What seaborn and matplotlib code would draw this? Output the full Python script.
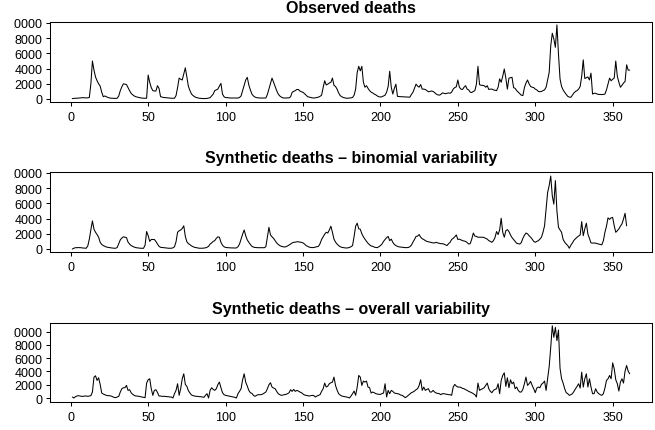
import numpy as np
import matplotlib
matplotlib.use("Agg")
import matplotlib.pyplot as plt
import seaborn as sns
from matplotlib.transforms import Bbox

# weekly deaths, week 1 onwards
observed = [
    50, 80, 100, 100, 120, 150, 150, 180, 150, 150,
    150, 200, 2000, 5000, 3800, 2900, 2400, 2000, 1700, 900,
    300, 400, 300, 200, 150, 100, 100, 80, 80, 100,
    400, 1100, 1600, 2000, 1950, 1900, 1500, 1100, 750, 550,
    400, 300, 250, 200, 150, 120, 100, 100, 100, 3150,
    2200, 1500, 1100, 1050, 1050, 1750, 1400, 300, 250, 200,
    180, 150, 150, 120, 100, 100, 100, 450, 1500, 2750,
    2600, 2500, 3300, 4100, 2850, 1650, 1100, 650, 450, 300,
    200, 150, 100, 80, 60, 50, 60, 80, 120, 170,
    400, 650, 1100, 1200, 1300, 1700, 2050, 650, 300, 180,
    180, 150, 130, 130, 130, 130, 130, 130, 200, 400,
    1100, 1750, 2500, 2850, 1850, 1200, 650, 400, 250, 180,
    150, 130, 130, 120, 120, 130, 600, 1300, 2000, 2750,
    2200, 1650, 1100, 650, 400, 250, 150, 130, 130, 150,
    150, 300, 880, 1000, 1100, 1250, 1250, 1050, 950, 880,
    700, 500, 300, 250, 200, 150, 130, 150, 200, 250,
    350, 500, 1500, 2400, 1850, 1950, 2100, 2200, 2750, 1800,
    1650, 1300, 800, 450, 300, 200, 150, 100, 100, 120,
    150, 200, 500, 1300, 3500, 4300, 3700, 4300, 2200, 1550,
    1750, 1400, 1100, 900, 800, 650, 550, 400, 300, 260,
    300, 400, 500, 900, 1650, 3650, 1550, 650, 1400, 1950,
    350, 320, 300, 300, 280, 270, 260, 250, 240, 600,
    880, 1400, 1950, 1700, 1550, 1900, 1300, 1300, 1250, 1100,
    950, 1000, 1050, 1000, 850, 650, 550, 500, 600, 800,
    750, 700, 750, 800, 750, 900, 1300, 1500, 1600, 2500,
    1550, 1300, 1250, 1550, 1750, 1300, 1200, 900, 850, 1000,
    1100, 1950, 4300, 1900, 1800, 1800, 1750, 1550, 1750, 1250,
    1300, 1300, 1200, 1150, 1100, 1550, 2650, 2200, 3000, 3950,
    2750, 1300, 2750, 2800, 2850, 1500, 1400, 1100, 900, 700,
    500, 450, 1500, 2100, 2500, 2000, 1650, 1550, 1500, 1300,
    1200, 1000, 950, 1000, 1100, 1200, 1550, 2500, 3500, 7000,
    8650, 7900, 6800, 9750, 5900, 2650, 1650, 1200, 880, 600,
    350, 250, 220, 500, 800, 1000, 1100, 1300, 1650, 3000,
    5150, 2700, 2800, 2900, 2500, 3400, 650, 750, 750, 650,
    600, 600, 580, 600, 650, 1200, 2000, 2750, 2400, 2600,
    2750, 5000, 3000, 2200, 1550, 1800, 2100, 2300, 4500, 3800, 3800,
]

binomial = [
    0, 100, 170, 180, 180, 180, 150, 130, 120, 100,
    400, 1300, 2550, 3700, 2600, 2200, 1900, 1550, 880, 600,
    450, 350, 260, 220, 180, 150, 120, 100, 100, 200,
    700, 1200, 1450, 1600, 1550, 1500, 900, 650, 450, 350,
    250, 180, 150, 120, 100, 90, 90, 500, 2300, 1750,
    1000, 1250, 1250, 1250, 1000, 650, 350, 220, 200, 180,
    150, 130, 100, 100, 100, 150, 300, 950, 2200, 2400,
    2500, 2700, 3050, 1650, 950, 700, 570, 400, 300, 220,
    180, 150, 100, 100, 100, 120, 150, 220, 350, 650,
    800, 1000, 1100, 1400, 1600, 1550, 880, 500, 300, 200,
    180, 170, 150, 140, 130, 130, 140, 300, 650, 1300,
    1950, 2500, 1750, 1200, 880, 600, 350, 250, 200, 180,
    170, 170, 160, 160, 170, 300, 1550, 2850, 1850, 1600,
    1400, 1100, 800, 600, 450, 350, 300, 260, 300, 400,
    520, 650, 800, 880, 900, 950, 950, 900, 880, 800,
    650, 450, 350, 250, 200, 180, 200, 250, 300, 350,
    700, 1250, 1600, 1950, 2200, 2100, 2500, 3000, 2200, 1300,
    900, 650, 450, 300, 220, 180, 150, 130, 150, 200,
    300, 450, 1650, 3000, 3400, 2650, 2600, 2000, 1600, 1300,
    1000, 750, 550, 400, 350, 250, 200, 180, 300, 450,
    650, 1000, 1250, 1500, 1650, 1100, 1300, 880, 600, 450,
    350, 280, 260, 230, 200, 180, 180, 200, 300, 500,
    900, 1250, 1650, 1700, 1900, 1550, 1350, 1250, 1100, 1000,
    950, 900, 850, 800, 800, 880, 800, 750, 700, 700,
    650, 550, 450, 700, 880, 1250, 1400, 1600, 1850, 1250,
    1300, 1200, 1100, 1050, 1000, 850, 650, 700, 1300, 2100,
    1700, 1650, 1550, 1550, 1550, 1550, 1500, 1400, 1300, 1100,
    1000, 880, 1100, 1500, 2300, 1900, 2500, 4050, 2200, 1550,
    2400, 2550, 2300, 1850, 1500, 1250, 1000, 750, 700, 650,
    850, 1400, 1800, 2100, 2000, 1750, 1550, 1300, 1000, 880,
    1000, 1100, 1300, 1550, 2200, 3050, 5250, 7450, 8350, 9600,
    7000, 5900, 9000, 5000, 2850, 2500, 2200, 1250, 900, 650,
    450, 100, 500, 800, 1150, 1350, 1550, 1700, 1850, 3600,
    1750, 2650, 3400, 1950, 1400, 800, 780, 780, 780, 700,
    650, 600, 550, 1100, 2200, 3000, 4100, 3900, 4100, 4150,
    3050, 2200, 2400, 2650, 3000, 3300, 3950, 4700, 3050,
]

overall = [
    150, 0, 200, 300, 350, 300, 250, 250, 300, 300,
    250, 300, 350, 900, 3150, 3350, 2650, 3050, 2050, 750,
    600, 500, 400, 350, 350, 300, 200, 100, 50, 150,
    250, 900, 1400, 1550, 1550, 1900, 1150, 1250, 800, 550,
    400, 300, 300, 250, 200, 150, 100, 50, 2250, 2750,
    2900, 1400, 400, 1150, 1250, 850, 300, 300, 250, 250,
    250, 200, 200, 150, 150, 0, 650, 1150, 2150, 400,
    1400, 2900, 3650, 2050, 1750, 1100, 750, 450, 350, 300,
    250, 250, 200, 200, 150, 100, 400, 650, 0, 1150,
    1550, 1300, 1150, 1400, 2000, 2400, 1550, 800, 500, 400,
    350, 300, 250, 200, 150, 100, 0, 650, 1000, 1400,
    2750, 3650, 2400, 1800, 1150, 800, 700, 400, 250, 400,
    500, 500, 500, 600, 750, 900, 1400, 2000, 2300, 1650,
    1500, 1400, 1000, 650, 500, 400, 450, 500, 550, 650,
    800, 1250, 1000, 1300, 1000, 1150, 1050, 900, 800, 600,
    450, 400, 350, 300, 350, 400, 350, 150, 300, 400,
    500, 1000, 1400, 2250, 1650, 1800, 2150, 2300, 2400, 3150,
    1900, 1200, 650, 450, 300, 250, 200, 150, 100, 0,
    300, 650, 1050, 400, 1650, 3400, 3150, 1900, 2550, 2400,
    2550, 1650, 1550, 750, 900, 800, 650, 600, 550, 550,
    650, 750, 2150, 150, 1150, 650, 1150, 1000, 750, 700,
    650, 600, 450, 400, 250, 50, 200, 400, 600, 800,
    900, 1050, 1250, 1400, 1900, 2750, 1150, 1650, 1150, 1300,
    1400, 900, 900, 1150, 900, 750, 700, 650, 500, 650,
    650, 600, 550, 500, 500, 400, 1650, 2050, 1800, 1650,
    1650, 1600, 1450, 1400, 1250, 1150, 1000, 900, 800, 650,
    500, 150, 2250, 1150, 1300, 1400, 1550, 1900, 2250, 1400,
    1000, 800, 1150, 1300, 1400, 2150, 650, 2650, 3400, 3800,
    1750, 3050, 1550, 2750, 2150, 2400, 1400, 1650, 1150, 900,
    900, 1300, 2150, 3150, 1900, 2150, 2500, 1900, 1400, 800,
    1500, 1650, 1550, 2050, 2250, 2550, 1150, 2900, 4750, 7650,
    10900, 9150, 10650, 8650, 10250, 4500, 2900, 2250, 1400, 800,
    650, 400, 500, 650, 1000, 1400, 1750, 2150, 1500, 3900,
    1650, 2900, 3650, 1650, 2900, 1650, 650, 650, 1400, 900,
    650, 500, 400, 650, 1500, 2650, 2900, 3400, 2900, 5300,
    4400, 2750, 2150, 1050, 2400, 2900, 2250, 4050, 4900, 4050, 3650,
]

titles = ["Observed deaths",
          "Synthetic deaths \u2013 binomial variability",
          "Synthetic deaths \u2013 overall variability"]
x_ticks = [0, 50, 100, 150, 200, 250, 300, 350]
y_ticks = [0, 2000, 4000, 6000, 8000, 10000]

sns.set_style("ticks")
plt.rcParams['font.family'] = ['Liberation Sans', 'DejaVu Sans']
plt.rcParams['text.color'] = 'black'
plt.rcParams['xtick.color'] = 'black'
plt.rcParams['ytick.color'] = 'black'
plt.rcParams['axes.edgecolor'] = 'black'

fig = plt.figure(figsize=(6.55, 4.31), dpi=100)

# axes boxes in figure fractions, with y limits per panel
boxes = [
    ([50 / 655, 1 - 103 / 431, 602 / 655, 80 / 431], (-395, 10130)),
    ([50 / 655, 1 - 253 / 431, 602 / 655, 80 / 431], (-395, 10130)),
    ([50 / 655, 1 - 403 / 431, 602 / 655, 79 / 431], (-603, 11312)),
]
series = [observed, binomial, overall]

axes = []
for vals, title, (rect, ylim) in zip(series, titles, boxes):
    ax = fig.add_axes(rect)
    weeks = np.arange(1, len(vals) + 1)
    sns.lineplot(x=weeks, y=vals, ax=ax, color="black", linewidth=0.75)
    ax.set_xlim(-13.4, 375.4)
    ax.set_ylim(*ylim)
    ax.set_xticks(x_ticks)
    ax.set_yticks(y_ticks)
    ax.set_yticklabels([str(v) for v in y_ticks])
    ax.set_xlabel("")
    ax.set_ylabel("")
    for s in ax.spines.values():
        s.set_visible(True)
        s.set_linewidth(0.75)
    ax.tick_params(direction="out", length=3.2, width=0.75, labelsize=9)
    ax.tick_params(axis="x", pad=3.5)
    ax.tick_params(axis="y", pad=2.4)
    ax.set_title(title, fontsize=11.5, fontweight="bold", pad=7)
    axes.append(ax)

# the original picture is cropped on the left, cutting the "1" of 10000
fig.canvas.draw()
renderer = fig.canvas.get_renderer()
digit_w = 0.556 * 9 * fig.dpi / 72
for ax in axes:
    top = ax.get_yticklabels()[-1]
    x0 = top.get_window_extent(renderer).x0 + digit_w + 0.3
    cut = Bbox([[x0, 0], [fig.bbox.width, fig.bbox.height]])
    for lab in ax.get_yticklabels():
        lab.set_clip_on(True)
        lab.set_clip_box(cut)

fig.savefig("out.png", dpi=100)
